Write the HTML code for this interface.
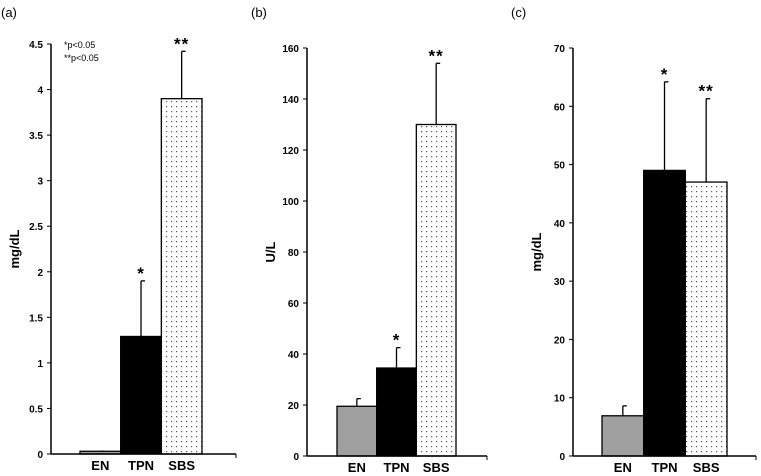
<!DOCTYPE html>
<html><head><meta charset="utf-8"><style>
html,body{margin:0;padding:0;background:#fff;}
svg{display:block;font-family:"Liberation Sans",Arial,sans-serif;}
</style></head><body>
<svg id="chart" width="761" height="476" viewBox="0 0 761 476" xmlns="http://www.w3.org/2000/svg">
<defs>
<pattern id="dots" width="5" height="5" patternUnits="userSpaceOnUse">
<rect width="5" height="5" fill="#fff"/><rect x="1" y="1" width="1.2" height="1.2" fill="#555"/>
</pattern>
</defs>
</svg>
<script>
const categories = ["EN","TPN","SBS"];
const valuesA = [0.03, 1.29, 3.9];
const errorsA = [0.03, 1.9, 4.42];
const ticksA = ["0","0.5","1","1.5","2","2.5","3","3.5","4","4.5"];
const valuesB = [19.5, 34.5, 130];
const errorsB = [22.5, 42.5, 154];
const ticksB = ["0","20","40","60","80","100","120","140","160"];
const valuesC = [6.9, 49, 47];
const errorsC = [8.6, 64.2, 61.3];
const ticksC = ["0","10","20","30","40","50","60","70"];
const sigA = ["", "*", "**"];
const sigB = ["", "*", "**"];
const sigC = ["", "*", "**"];

const NS = "http://www.w3.org/2000/svg";
const svg = document.getElementById("chart");
function mk(tag, attrs, parent){const e=document.createElementNS(NS,tag);for(const k in attrs)e.setAttribute(k,attrs[k]);(parent||svg).appendChild(e);return e;}
const fills = ["#a0a0a0","#000","url(#dots)"];

function panel(cfg){
  const g = mk("g",{});
  
  
  const max = parseFloat(cfg.ticks[cfg.ticks.length-1]);
  const y = v => cfg.y0 - (v/max)*(cfg.y0-cfg.yTop);
  const bw = (cfg.barEnd - cfg.barStart)/categories.length;
  const x = i => cfg.barStart + i*bw;
  const lab = mk("text",{x:cfg.labX,y:17,"font-size":13,fill:"#000"},g); lab.textContent="("+cfg.id+")";
  
  
  const yt = mk("text",{x:0,y:0,"font-size":13,"font-weight":"bold","text-anchor":"middle",transform:`translate(${cfg.axX-32},${(cfg.y0+cfg.yTop)/2}) rotate(-90)`},g); yt.textContent=cfg.unit;
  
  
  cfg.ticks.forEach(t=>{
    const yy=y(parseFloat(t));
    mk("line",{x1:cfg.axX-4,x2:cfg.axX,y1:yy,y2:yy,stroke:"#000","stroke-width":1},g);
    const tx=mk("text",{x:cfg.axX-8,y:yy+4,"font-size":10,"font-weight":"bold","text-anchor":"end"},g); tx.textContent=t;
    
    
  });
  categories.forEach((c,i)=>{
    const v=cfg.values[i], e=cfg.errors[i];
    mk("line",{x1:x(i)+bw/2,x2:x(i)+bw/2,y1:y(v),y2:y(e),stroke:"#000","stroke-width":1.3},g);
    mk("line",{x1:x(i)+bw/2,x2:x(i)+bw/2+4,y1:y(e),y2:y(e),stroke:"#000","stroke-width":1.3},g);
    const r=mk("rect",{x:x(i),y:y(v),width:bw,height:cfg.y0-y(v),fill:fills[i],stroke:"#000","stroke-width":1.3},g);
    
    
    const ct=mk("text",{x:x(i)+bw/2,y:cfg.y0+16,"font-size":13,"font-weight":"bold","text-anchor":"middle"},g); ct.textContent=c;
    
    
    if(cfg.sig[i]){
      const s=mk("text",{x:x(i)+bw/2,y:y(e)-2,"font-size":17,"font-weight":"bold","text-anchor":"middle","letter-spacing":"1"},g); s.textContent=cfg.sig[i];
      
      
    }
  });
  mk("line",{x1:cfg.axX,x2:cfg.axX,y1:cfg.yTop,y2:cfg.y0,stroke:"#000","stroke-width":1.5},g);
  mk("line",{x1:cfg.axX,x2:cfg.axEnd,y1:cfg.y0,y2:cfg.y0,stroke:"#000","stroke-width":1.5},g);
  mk("line",{x1:cfg.axEnd,x2:cfg.axEnd,y1:cfg.y0,y2:cfg.y0+4,stroke:"#000","stroke-width":1},g);
}
panel({id:"a",labX:1,unit:"mg/dL",axX:51,axEnd:236,yTop:44,y0:454,barStart:80,barEnd:202,values:valuesA,errors:errorsA,ticks:ticksA,sig:sigA});
panel({id:"b",labX:251,unit:"U/L",axX:307,axEnd:487,yTop:48,y0:456,barStart:337,barEnd:456,values:valuesB,errors:errorsB,ticks:ticksB,sig:sigB});
panel({id:"c",labX:511,unit:"mg/dL",axX:573,axEnd:756,yTop:48,y0:456,barStart:602,barEnd:727,values:valuesC,errors:errorsC,ticks:ticksC,sig:sigC});
const n1=mk("text",{x:64,y:48,"font-size":9}); n1.textContent="*p<0.05";


const n2=mk("text",{x:64,y:61,"font-size":9}); n2.textContent="**p<0.05";


</script>
</body></html>
